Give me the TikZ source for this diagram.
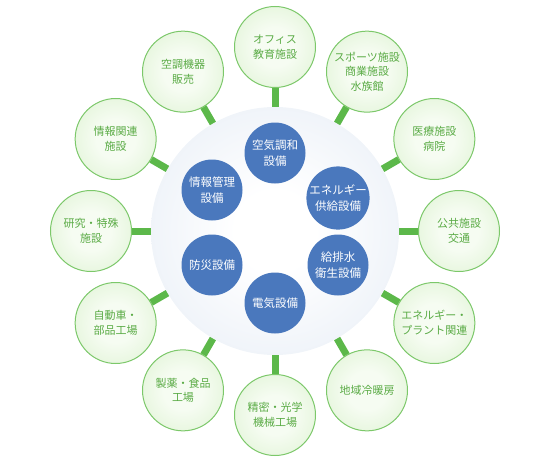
\documentclass[tikz,border=0pt]{standalone}
\usepackage{fontspec}
\usetikzlibrary{calc}
\setmainfont{Noto Sans CJK JP}
\definecolor{gin}{HTML}{F6FCF2}
\definecolor{gout}{HTML}{CFEDBF}
\definecolor{gborder}{HTML}{7CC86A}
\definecolor{gtext}{HTML}{5AAB45}
\definecolor{bar}{HTML}{5CB84A}
\definecolor{bin}{HTML}{FFFFFF}
\definecolor{bout}{HTML}{DAE4F1}
\definecolor{blue}{HTML}{4A78BD}
\pgfdeclareradialshading{greenball}{\pgfpoint{0bp}{0bp}}{color(0bp)=(gin); color(12bp)=(gin); color(50bp)=(gout)}
\pgfdeclareradialshading{bigball}{\pgfpoint{0bp}{0bp}}{color(0bp)=(bin); color(8bp)=(bin); color(50bp)=(bout)}
\tikzset{
  outer/.style={circle, minimum size=81pt, inner sep=0pt, draw=gborder, line width=1pt,
    shading=greenball, text=gtext, align=center, font=\fontsize{11}{14.5}\selectfont},
  inner/.style={circle, minimum size=61pt, inner sep=0pt, fill=blue, text=white,
    align=center, font=\fontsize{11.5}{15.5}\selectfont},
  hub/.style={circle, minimum size=248pt, inner sep=0pt, shading=bigball},
  link/.style={draw=bar, line width=7pt}
}
\begin{document}
\begin{tikzpicture}[x=1pt,y=1pt]
\useasboundingbox (0,0) rectangle (550,-463);
\coordinate (C) at (275,-231);
\node[hub] (hub) at (C) {};
\foreach \ang/\name/\txt in {
  90/o1/{オフィス\\教育施設},
  60/o2/{スポーツ施設\\商業施設\\水族館},
  30/o3/{医療施設\\病院},
  0/o4/{公共施設\\交通},
  -30/o5/{エネルギー・\\プラント関連},
  -60/o6/{地域冷暖房},
  -90/o7/{精密・光学\\機械工場},
  -120/o8/{製薬・食品\\工場},
  -150/o9/{自動車・\\部品工場},
  180/o10/{研究・特殊\\施設},
  150/o11/{情報関連\\施設},
  120/o12/{空調機器\\販売}}{
  \node[outer] (\name) at ($(C)+(\ang:184)$) {\txt};
  \draw[link] (hub) -- (\name);
}
\node[inner] (i1) at (275,-153) {空気調和\\設備};
\node[inner] (i2) at (338,-198) {エネルギー\\供給設備};
\node[inner] (i3) at (338,-265) {給排水\\衛生設備};
\node[inner] (i4) at (275,-303) {電気設備};
\node[inner] (i5) at (212,-265) {防災設備};
\node[inner] (i6) at (212,-190) {情報管理\\設備};
\end{tikzpicture}
\end{document}
